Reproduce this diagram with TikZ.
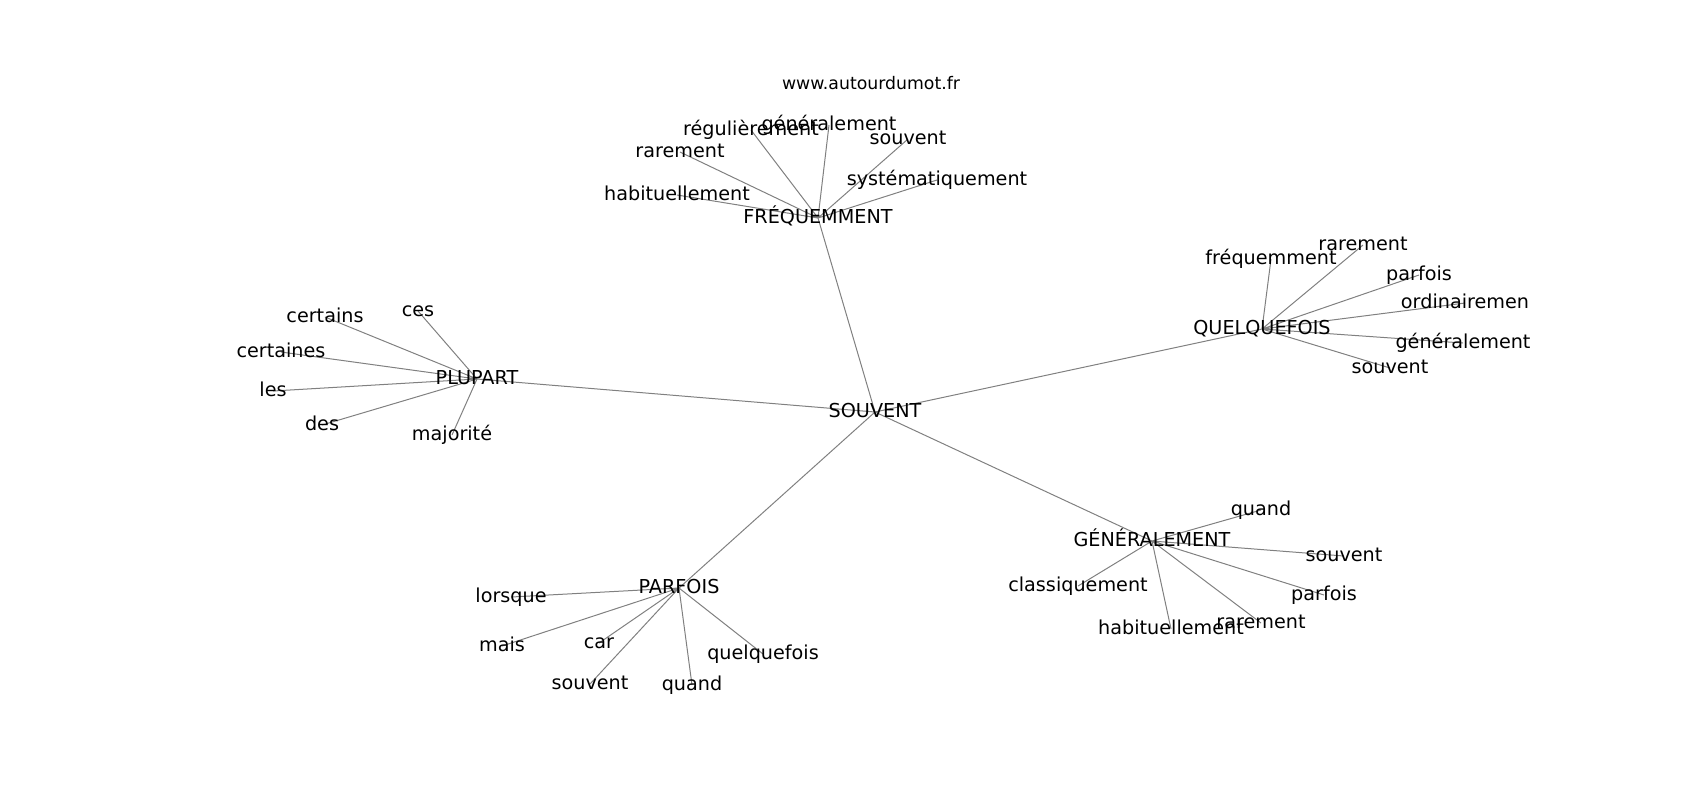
\documentclass[tikz,border=0pt]{standalone}
\usepackage{fontspec}
\setmainfont{DejaVu Sans}
\usetikzlibrary{backgrounds}
\begin{document}
\begin{tikzpicture}[
        x=0.5pt, y=-0.5pt,
        word/.style={inner sep=0pt, font=\fontsize{9.6}{11}\selectfont, text height=7.3pt, text depth=2.3pt},
        site/.style={inner sep=0pt, font=\fontsize{8.65}{10}\selectfont},
        link/.style={draw=black!50, line width=0.5pt}
        ]
        \useasboundingbox (0,0) rectangle (1700,800);
        \node (www) [site] at (871,83) {www.autourdumot.fr};
        % centre
        \node (sv) [word] at (875,412) {SOUVENT};
        % FREQUEMMENT
        \node (fr) [word] at (818,218) {FRÉQUEMMENT};
        \node (fr1) [word] at (677,195) {habituellement};
        \node (fr2) [word] at (680,152) {rarement};
        \node (fr3) [word] at (751,130) {régulièrement};
        \node (fr4) [word] at (829,125) {généralement};
        \node (fr5) [word] at (908,139) {souvent};
        \node (fr6) [word] at (937,180) {systématiquement};
        % PLUPART
        \node (pl) [word] at (477,379) {PLUPART};
        \node (pl1) [word] at (418,311) {ces};
        \node (pl2) [word] at (325,317) {certains};
        \node (pl3) [word] at (281,352) {certaines};
        \node (pl4) [word] at (273,391) {les};
        \node (pl5) [word] at (322,425) {des};
        \node (pl6) [word] at (452,435) {majorité};
        % QUELQUEFOIS
        \node (qq) [word] at (1262,329) {QUELQUEFOIS};
        \node (qq1) [word] at (1271,259) {fréquemment};
        \node (qq2) [word] at (1363,245) {rarement};
        \node (qq3) [word] at (1419,275) {parfois};
        \node (qq4) [word] at (1465,303) {ordinairemen};
        \node (qq5) [word] at (1463,343) {généralement};
        \node (qq6) [word] at (1390,368) {souvent};
        % PARFOIS
        \node (pa) [word] at (679,588) {PARFOIS};
        \node (pa1) [word] at (511,597) {lorsque};
        \node (pa2) [word] at (502,646) {mais};
        \node (pa3) [word] at (599,643) {car};
        \node (pa4) [word] at (590,684) {souvent};
        \node (pa5) [word] at (692,685) {quand};
        \node (pa6) [word] at (763,654) {quelquefois};
        % GENERALEMENT
        \node (ge) [word] at (1152,541) {GÉNÉRALEMENT};
        \node (ge1) [word] at (1261,510) {quand};
        \node (ge2) [word] at (1344,556) {souvent};
        \node (ge3) [word] at (1078,586) {classiquement};
        \node (ge4) [word] at (1324,595) {parfois};
        \node (ge5) [word] at (1171,629) {habituellement};
        \node (ge6) [word] at (1261,623) {rarement};
        \begin{pgfonlayer}{background}
            \draw[link] (sv.center) -- (fr.center);
            \draw[link] (sv.center) -- (pl.center);
            \draw[link] (sv.center) -- (qq.center);
            \draw[link] (sv.center) -- (pa.center);
            \draw[link] (sv.center) -- (ge.center);
            \draw[link] (fr.center) -- (fr1.center) (fr.center) -- (fr2.center) (fr.center) -- (fr3.center)
                        (fr.center) -- (fr4.center) (fr.center) -- (fr5.center) (fr.center) -- (fr6.center);
            \draw[link] (pl.center) -- (pl1.center) (pl.center) -- (pl2.center) (pl.center) -- (pl3.center)
                        (pl.center) -- (pl4.center) (pl.center) -- (pl5.center) (pl.center) -- (pl6.center);
            \draw[link] (qq.center) -- (qq1.center) (qq.center) -- (qq2.center) (qq.center) -- (qq3.center)
                        (qq.center) -- (qq4.center) (qq.center) -- (qq5.center) (qq.center) -- (qq6.center);
            \draw[link] (pa.center) -- (pa1.center) (pa.center) -- (pa2.center) (pa.center) -- (pa3.center)
                        (pa.center) -- (pa4.center) (pa.center) -- (pa5.center) (pa.center) -- (pa6.center);
            \draw[link] (ge.center) -- (ge1.center) (ge.center) -- (ge2.center) (ge.center) -- (ge3.center)
                        (ge.center) -- (ge4.center) (ge.center) -- (ge5.center) (ge.center) -- (ge6.center);
        \end{pgfonlayer}
\end{tikzpicture}
\end{document}
